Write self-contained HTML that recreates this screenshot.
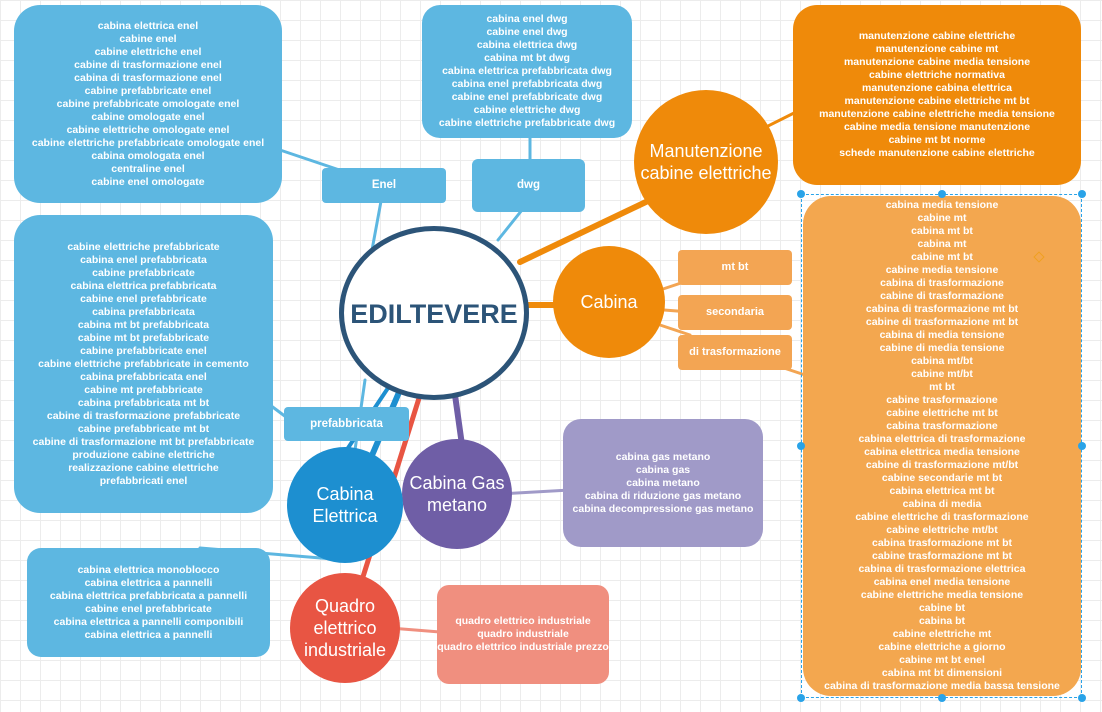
<!DOCTYPE html>
<html><head><meta charset="utf-8"><style>
body{margin:0;width:1102px;height:712px;overflow:hidden;position:relative;font-family:"Liberation Sans",Arial,sans-serif;
background-color:#fff;background-image:linear-gradient(#ececec 1px,transparent 1px),linear-gradient(90deg,#ececec 1px,transparent 1px);background-size:20px 20px;}
.b{position:absolute;color:#fff;font-weight:bold;font-size:10.5px;line-height:13px;text-align:center;display:flex;flex-direction:column;justify-content:center;box-sizing:border-box;white-space:nowrap;}
.lb{background:#5db7e1}
svg{position:absolute;left:0;top:0}
.c{position:absolute;border-radius:50%;color:#fff;display:flex;align-items:center;justify-content:center;text-align:center;font-size:18px;line-height:22px}
.h{position:absolute;width:8px;height:8px;border-radius:50%;background:#29a3e8}
</style></head><body>
<svg width="1102" height="712">
<g stroke-linecap="round">
<line x1="384" y1="185" x2="280" y2="150" stroke="#5db7e1" stroke-width="3"/>
<line x1="384" y1="185" x2="372" y2="250" stroke="#5db7e1" stroke-width="3"/>
<line x1="530" y1="180" x2="530" y2="135" stroke="#5db7e1" stroke-width="3"/>
<line x1="530" y1="200" x2="498" y2="240" stroke="#5db7e1" stroke-width="3"/>
<line x1="365" y1="380" x2="355" y2="450" stroke="#5db7e1" stroke-width="3"/>
<line x1="270" y1="405" x2="290" y2="420" stroke="#5db7e1" stroke-width="3"/>
<line x1="200" y1="548" x2="345" y2="560" stroke="#5db7e1" stroke-width="3"/>
<line x1="400" y1="390" x2="370" y2="460" stroke="#1d8fd0" stroke-width="6"/>
<line x1="390" y1="385" x2="340" y2="460" stroke="#1d8fd0" stroke-width="4"/>
<line x1="420" y1="395" x2="362" y2="580" stroke="#e85543" stroke-width="5"/>
<line x1="455" y1="395" x2="462" y2="445" stroke="#6f5ea6" stroke-width="6"/>
<line x1="500" y1="494" x2="570" y2="490" stroke="#a09ac8" stroke-width="3"/>
<line x1="390" y1="628" x2="440" y2="632" stroke="#f08f7f" stroke-width="3"/>
<line x1="520" y1="262" x2="650" y2="200" stroke="#ef8a0a" stroke-width="6"/>
<line x1="525" y1="305" x2="560" y2="305" stroke="#ef8a0a" stroke-width="6"/>
<line x1="760" y1="130" x2="800" y2="110" stroke="#ef8a0a" stroke-width="3"/>
<line x1="660" y1="290" x2="690" y2="280" stroke="#f3a553" stroke-width="3"/>
<line x1="664" y1="310" x2="690" y2="312" stroke="#f3a553" stroke-width="3"/>
<line x1="660" y1="325" x2="690" y2="335" stroke="#f3a553" stroke-width="3"/>
<line x1="760" y1="360" x2="805" y2="375" stroke="#f3a553" stroke-width="3"/>
</g>
</svg>
<div class="b lb" style="left:14px;top:5px;width:268px;height:198px;border-radius:26px">cabina elettrica enel<br>cabine enel<br>cabine elettriche enel<br>cabine di trasformazione enel<br>cabina di trasformazione enel<br>cabine prefabbricate enel<br>cabine prefabbricate omologate enel<br>cabine omologate enel<br>cabine elettriche omologate enel<br>cabine elettriche prefabbricate omologate enel<br>cabina omologata enel<br>centraline enel<br>cabine enel omologate</div>
<div class="b lb" style="left:422px;top:5px;width:210px;height:133px;border-radius:18px">cabina enel dwg<br>cabine enel dwg<br>cabina elettrica dwg<br>cabina mt bt dwg<br>cabina elettrica prefabbricata dwg<br>cabina enel prefabbricata dwg<br>cabine enel prefabbricate dwg<br>cabine elettriche dwg<br>cabine elettriche prefabbricate dwg</div>
<div class="b lb" style="left:14px;top:215px;width:259px;height:298px;border-radius:26px">cabine elettriche prefabbricate<br>cabina enel prefabbricata<br>cabine prefabbricate<br>cabina elettrica prefabbricata<br>cabine enel prefabbricate<br>cabina prefabbricata<br>cabina mt bt prefabbricata<br>cabine mt bt prefabbricate<br>cabine prefabbricate enel<br>cabine elettriche prefabbricate in cemento<br>cabina prefabbricata enel<br>cabine mt prefabbricate<br>cabina prefabbricata mt bt<br>cabine di trasformazione prefabbricate<br>cabine prefabbricate mt bt<br>cabine di trasformazione mt bt prefabbricate<br>produzione cabine elettriche<br>realizzazione cabine elettriche<br>prefabbricati enel</div>
<div class="b lb" style="left:27px;top:548px;width:243px;height:109px;border-radius:14px">cabina elettrica monoblocco<br>cabina elettrica a pannelli<br>cabina elettrica prefabbricata a pannelli<br>cabine enel prefabbricate<br>cabina elettrica a pannelli componibili<br>cabina elettrica a pannelli</div>
<div class="b lb" style="left:322px;top:168px;width:124px;height:35px;border-radius:4px;font-size:11.5px">Enel</div>
<div class="b lb" style="left:472px;top:159px;width:113px;height:53px;border-radius:6px;font-size:11.5px">dwg</div>
<div class="b lb" style="left:284px;top:407px;width:125px;height:34px;border-radius:4px;font-size:11.5px">prefabbricata</div>
<div class="b" style="left:793px;top:5px;width:288px;height:180px;border-radius:24px;background:#ef8a0a">manutenzione cabine elettriche<br>manutenzione cabine mt<br>manutenzione cabine media tensione<br>cabine elettriche normativa<br>manutenzione cabina elettrica<br>manutenzione cabine elettriche mt bt<br>manutenzione cabine elettriche media tensione<br>cabine media tensione manutenzione<br>cabine mt bt norme<br>schede manutenzione cabine elettriche</div>
<div style="position:absolute;left:801px;top:194px;width:281px;height:504px;border:1px dashed #29a3e8;box-sizing:border-box"></div>
<div class="b" style="left:803px;top:196px;width:278px;height:500px;border-radius:28px;background:#f3a74f;justify-content:flex-start;padding-top:3px">cabina media tensione<br>cabine mt<br>cabina mt bt<br>cabina mt<br>cabine mt bt<br>cabine media tensione<br>cabina di trasformazione<br>cabine di trasformazione<br>cabina di trasformazione mt bt<br>cabine di trasformazione mt bt<br>cabina di media tensione<br>cabine di media tensione<br>cabina mt/bt<br>cabine mt/bt<br>mt bt<br>cabine trasformazione<br>cabine elettriche mt bt<br>cabina trasformazione<br>cabina elettrica di trasformazione<br>cabina elettrica media tensione<br>cabine di trasformazione mt/bt<br>cabine secondarie mt bt<br>cabina elettrica mt bt<br>cabina di media<br>cabine elettriche di trasformazione<br>cabine elettriche mt/bt<br>cabina trasformazione mt bt<br>cabine trasformazione mt bt<br>cabina di trasformazione elettrica<br>cabina enel media tensione<br>cabine elettriche media tensione<br>cabine bt<br>cabina bt<br>cabine elettriche mt<br>cabine elettriche a giorno<br>cabine mt bt enel<br>cabina mt bt dimensioni<br>cabina di trasformazione media bassa tensione</div>
<div class="h" style="left:797px;top:190px"></div><div class="h" style="left:938px;top:190px"></div><div class="h" style="left:1078px;top:190px"></div>
<div class="h" style="left:797px;top:442px"></div><div class="h" style="left:1078px;top:442px"></div>
<div class="h" style="left:797px;top:694px"></div><div class="h" style="left:938px;top:694px"></div><div class="h" style="left:1078px;top:694px"></div>
<div style="position:absolute;left:1035px;top:253px;width:6px;height:6px;border:1px solid #f0a020;transform:rotate(45deg)"></div>
<div class="b" style="left:678px;top:250px;width:114px;height:35px;border-radius:4px;background:#f3a553;font-size:11px">mt bt</div>
<div class="b" style="left:678px;top:295px;width:114px;height:35px;border-radius:4px;background:#f3a553;font-size:11px">secondaria</div>
<div class="b" style="left:678px;top:335px;width:114px;height:35px;border-radius:4px;background:#f3a553;font-size:11px">di trasformazione</div>
<div class="b" style="left:563px;top:419px;width:200px;height:128px;border-radius:18px;background:#a09ac8">cabina gas metano<br>cabina gas<br>cabina metano<br>cabina di riduzione gas metano<br>cabina decompressione gas metano</div>
<div class="b" style="left:437px;top:585px;width:172px;height:99px;border-radius:12px;background:#f08f7f">quadro elettrico industriale<br>quadro industriale<br>quadro elettrico industriale prezzo</div>
<div class="c" style="left:339px;top:226px;width:190px;height:174px;background:#fff;border:5px solid #2c5478;box-sizing:border-box;color:#2c5478;font-weight:bold;font-size:27px;padding-top:2px">EDILTEVERE</div>
<div class="c" style="left:634px;top:90px;width:144px;height:144px;background:#ef8a0a">Manutenzione<br>cabine elettriche</div>
<div class="c" style="left:553px;top:246px;width:112px;height:112px;background:#ef8a0a">Cabina</div>
<div class="c" style="left:402px;top:439px;width:110px;height:110px;background:#6f5ea6">Cabina Gas<br>metano</div>
<div class="c" style="left:287px;top:447px;width:116px;height:116px;background:#1d8fd0">Cabina<br>Elettrica</div>
<div class="c" style="left:290px;top:573px;width:110px;height:110px;background:#e85543">Quadro<br>elettrico<br>industriale</div>
</body></html>
